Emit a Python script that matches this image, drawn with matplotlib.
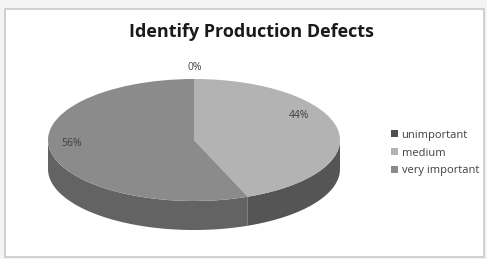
import numpy as np
import matplotlib
matplotlib.use("Agg")
import matplotlib.pyplot as plt
from matplotlib.patches import Rectangle, Patch

title = "Identify Production Defects"
categories = ["unimportant", "medium", "very important"]
values = [0, 44, 56]
top_colors = ["#4f4f4f", "#b3b3b3", "#8b8b8b"]
side_colors = ["#3a3a3a", "#555555", "#636363"]

W, H = 487, 259
fig = plt.figure(figsize=(W / 100, H / 100), dpi=100)
fig.patch.set_facecolor("#f4f4f6")
# chart area frame
fig.patches.append(Rectangle((5 / W, 2 / H), 479 / W, 248 / H, transform=fig.transFigure,
                             facecolor="white", edgecolor="#c8c8c8", lw=1.2, zorder=-5))

# pie geometry in pixels
cx, cy, rx, ry, depth_px = 194, 140, 146, 61, 29
ax_l, ax_r, ax_t, ax_b = 28, 370, 55, 245
ax = fig.add_axes([ax_l / W, 1 - ax_b / H, (ax_r - ax_l) / W, (ax_b - ax_t) / H])
ax.set_zorder(2)
d = depth_px / ry

# side bands (front half only)
total = sum(values)
start = 90.0
angles = []
a = start
for v in values:
    a2 = a - 360.0 * v / total
    angles.append((a2, a))
    a = a2
for (a1, a2), col in zip(angles, side_colors):
    lo, hi = a1 % 360, (a1 % 360) + (a2 - a1)
    for off in (0, 360, -360):
        s, e = max(lo + off, 180), min(hi + off, 360)
        if e > s:
            t = np.radians(np.linspace(s, e, 100))
            xs = np.concatenate([np.cos(t), np.cos(t[::-1])])
            ys = np.concatenate([np.sin(t), np.sin(t[::-1]) - d])
            ax.fill(xs, ys, color=col, lw=0, zorder=1)

wedges, _ = ax.pie(values, colors=top_colors, startangle=90, counterclock=False,
                   radius=1, wedgeprops=dict(linewidth=0))
for w in wedges:
    w.set_zorder(2)

ax.set_aspect("auto")
ax.set_xlim((ax_l - cx) / rx, (ax_r - cx) / rx)
ax.set_ylim(-(ax_b - cy) / ry, (cy - ax_t) / ry)
ax.axis("off")

# percentage labels
pct = [f"{round(100 * v / total)}%" for v in values]
lab_px = [(195, 68), (299, 115), (72, 143)]
for p, (px, py) in zip(pct, lab_px):
    fig.text(px / W, 1 - py / H, p, ha="center", va="center", fontsize=7.5,
             color="#404040", family="Open Sans", zorder=5)

fig.text(251 / W, 1 - 32 / H, title, ha="center", va="center", fontsize=13,
         fontweight="bold", color="#1a1a1a", family="Open Sans")

handles = [Patch(facecolor=c, edgecolor="none") for c in top_colors]
fig.legend(handles, categories, loc="center left", bbox_to_anchor=(381 / W, 1 - 153 / H),
           frameon=False, handlelength=0.6, handleheight=0.6,
           handletextpad=0.35, labelspacing=0.6, prop=dict(family="Open Sans", size=8),
           labelcolor="#404040")

fig.savefig("out.png", dpi=100, facecolor=fig.get_facecolor())
